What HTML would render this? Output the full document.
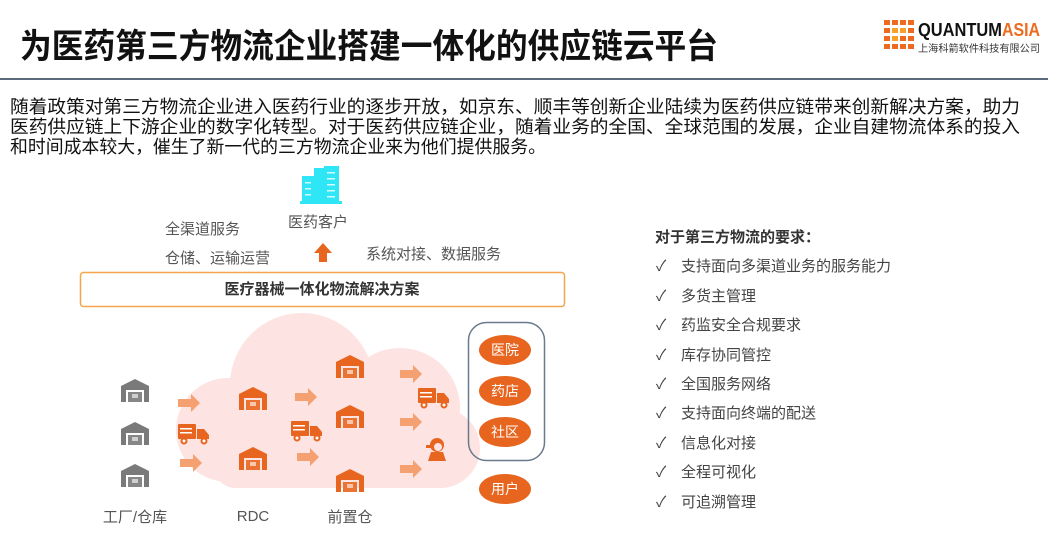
<!DOCTYPE html>
<html><head><meta charset="utf-8"><style>
html,body{margin:0;padding:0;background:#fff;}
svg{display:block;font-family:"Liberation Sans","Noto Sans CJK SC",sans-serif;}
</style></head><body>
<svg width="1048" height="546" viewBox="0 0 1048 546" xmlns="http://www.w3.org/2000/svg">
<defs>
<g id="wh"><path d="M-14 -6 L0 -13 L14 -6 L14 10 L9 10 L9 -2 L-9 -2 L-9 10 L-14 10 Z"/><rect x="-7" y="0" width="14" height="10" fill-opacity="0.9"/><rect x="-3" y="2" width="6" height="4" fill="#fff" opacity="0.6"/></g>
<g id="ar"><path d="M-11 -4 L2 -4 L2 -9 L11 0 L2 9 L2 4 L-11 4 Z"/></g>
<g id="tr"><rect x="-16" y="-9" width="18" height="15" rx="1"/><path d="M3 -4 L10 -4 L15 2 L15 6 L3 6 Z"/><circle cx="-10" cy="8" r="3.5"/><circle cx="10" cy="8" r="3.5"/><circle cx="-10" cy="8" r="1.5" fill="#fff"/><circle cx="10" cy="8" r="1.5" fill="#fff"/><rect x="-14" y="-5" width="12" height="1.5" fill="#fff"/><rect x="-14" y="-1" width="12" height="1.5" fill="#fff"/></g>
</defs>
<!-- title -->
<text x="20" y="58" font-size="34" font-weight="bold" fill="#111" textLength="698" lengthAdjust="spacingAndGlyphs">为医药第三方物流企业搭建一体化的供应链云平台</text>
<rect x="0" y="78" width="1048" height="2" fill="#5b6b7d"/>
<!-- logo -->
<g fill="#ee6a1e">
<rect x="884" y="20" width="6" height="5"/><rect x="892" y="20" width="6" height="5"/><rect x="900" y="20" width="6" height="5"/><rect x="908" y="20" width="6" height="5"/>
<rect x="884" y="28" width="6" height="5"/><rect x="892" y="28" width="6" height="5" fill="#f7a12a"/><rect x="900" y="28" width="6" height="5" fill="#f7a12a"/><rect x="908" y="28" width="6" height="5"/>
<rect x="884" y="36" width="6" height="5"/><rect x="892" y="36" width="6" height="5" fill="#f7a12a"/><rect x="900" y="36" width="6" height="5"/><rect x="908" y="36" width="6" height="5"/>
<rect x="884" y="44" width="6" height="5"/><rect x="892" y="44" width="6" height="5"/><rect x="900" y="44" width="6" height="5"/><rect x="908" y="44" width="6" height="5"/>
</g>
<text x="918" y="36" font-size="18" font-weight="bold" fill="#111" textLength="84" lengthAdjust="spacingAndGlyphs">QUANTUM</text>
<text x="1002" y="36" font-size="18" font-weight="bold" fill="#ee6a1e" textLength="38" lengthAdjust="spacingAndGlyphs">ASIA</text>
<text x="918" y="52" font-size="10" fill="#333" textLength="122" lengthAdjust="spacingAndGlyphs">上海科箭软件科技有限公司</text>
<!-- paragraph -->
<g font-size="18" fill="#111">
<text x="10" y="113" textLength="1010" lengthAdjust="spacingAndGlyphs">随着政策对第三方物流企业进入医药行业的逐步开放，如京东、顺丰等创新企业陆续为医药供应链带来创新解决方案，助力</text>
<text x="10" y="133" textLength="1010" lengthAdjust="spacingAndGlyphs">医药供应链上下游企业的数字化转型。对于医药供应链企业，随着业务的全国、全球范围的发展，企业自建物流体系的投入</text>
<text x="10" y="153" textLength="536" lengthAdjust="spacingAndGlyphs">和时间成本较大，催生了新一代的三方物流企业来为他们提供服务。</text>
</g>
<!-- building -->
<g fill="#2ee6f5">
<rect x="302" y="176" width="12" height="27"/><rect x="314" y="168" width="10" height="35"/><rect x="324" y="166" width="15" height="37"/><rect x="300" y="201" width="42" height="3"/>
</g>
<g fill="#fff" opacity="0.8"><rect x="305" y="182" width="6" height="1.5"/><rect x="305" y="188" width="6" height="1.5"/><rect x="305" y="194" width="6" height="1.5"/><rect x="327" y="172" width="8" height="1.5"/><rect x="327" y="178" width="8" height="1.5"/><rect x="327" y="184" width="8" height="1.5"/><rect x="327" y="190" width="8" height="1.5"/><rect x="327" y="196" width="8" height="1.5"/></g>
<g font-size="15" fill="#555">
<text x="288" y="227">医药客户</text>
<text x="165" y="234">全渠道服务</text>
<text x="165" y="263">仓储、运输运营</text>
<text x="366" y="259">系统对接、数据服务</text>
</g>
<path d="M323 243 L332 253 L327 253 L327 262 L319 262 L319 253 L314 253 Z" fill="#e8651f"/>
<!-- solution box -->
<rect x="80.5" y="272.5" width="484" height="34" rx="3" fill="#fff" stroke="#f5a54a" stroke-width="1.5"/>
<text x="322" y="294" font-size="15" font-weight="bold" fill="#333" text-anchor="middle">医疗器械一体化物流解决方案</text>
<!-- cloud -->
<g fill="#fde3e1">
<circle cx="302" cy="385" r="72"/>
<circle cx="400" cy="408" r="60"/>
<circle cx="228" cy="430" r="52"/>
<circle cx="440" cy="448" r="40"/>
<rect x="215" y="420" width="240" height="68" rx="20"/>
</g>
<!-- side box -->
<rect x="468.5" y="322.5" width="76" height="138" rx="18" fill="none" stroke="#6a7a8c" stroke-width="1.5"/>
<g fill="#e8651f">
<ellipse cx="505" cy="350" rx="26" ry="15"/><ellipse cx="505" cy="391" rx="26" ry="15"/><ellipse cx="505" cy="432" rx="26" ry="15"/><ellipse cx="505" cy="489" rx="26" ry="15"/>
</g>
<g font-size="14" fill="#fff" text-anchor="middle">
<text x="505" y="355">医院</text><text x="505" y="396">药店</text><text x="505" y="437">社区</text><text x="505" y="494">用户</text>
</g>
<!-- warehouses -->
<g fill="#7a7a7a"><use href="#wh" x="135" y="392"/><use href="#wh" x="135" y="435"/><use href="#wh" x="135" y="477"/></g>
<g fill="#e8651f"><use href="#wh" x="253" y="400"/><use href="#wh" x="253" y="460"/><use href="#wh" x="350" y="368"/><use href="#wh" x="350" y="418"/><use href="#wh" x="350" y="482"/></g>
<g fill="#f4a070"><use href="#ar" x="189" y="403"/><use href="#ar" x="191" y="463"/><use href="#ar" x="306" y="397"/><use href="#ar" x="308" y="457"/><use href="#ar" x="411" y="374"/><use href="#ar" x="411" y="422"/><use href="#ar" x="411" y="469"/></g>
<g fill="#e8651f"><use href="#tr" x="194" y="433"/><use href="#tr" x="307" y="430"/><use href="#tr" x="434" y="397"/></g>
<!-- person -->
<g fill="#e8651f"><circle cx="437" cy="445" r="7"/><rect x="426" y="445" width="10" height="3"/><path d="M428 461 L431 452 L443 452 L446 461 Z"/></g>
<circle cx="438" cy="447" r="4" fill="#fde3e1"/>
<g font-size="15" fill="#555" text-anchor="middle">
<text x="135" y="522">工厂/仓库</text><text x="253" y="521">RDC</text><text x="350" y="522">前置仓</text>
</g>
<!-- list -->
<text x="655" y="242" font-size="15" font-weight="bold" fill="#333">对于第三方物流的要求：</text>
<g font-size="15" fill="#444">
<text x="656" y="271">✓</text><text x="681" y="271">支持面向多渠道业务的服务能力</text>
<text x="656" y="301">✓</text><text x="681" y="301">多货主管理</text>
<text x="656" y="330">✓</text><text x="681" y="330">药监安全合规要求</text>
<text x="656" y="360">✓</text><text x="681" y="360">库存协同管控</text>
<text x="656" y="389">✓</text><text x="681" y="389">全国服务网络</text>
<text x="656" y="418">✓</text><text x="681" y="418">支持面向终端的配送</text>
<text x="656" y="448">✓</text><text x="681" y="448">信息化对接</text>
<text x="656" y="477">✓</text><text x="681" y="477">全程可视化</text>
<text x="656" y="507">✓</text><text x="681" y="507">可追溯管理</text>
</g>
</svg>
</body></html>
